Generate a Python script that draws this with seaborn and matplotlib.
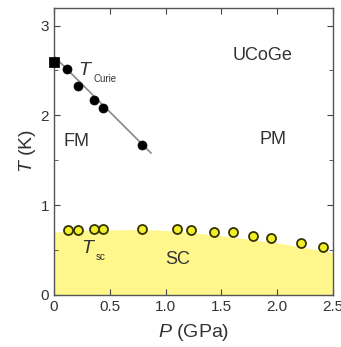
import matplotlib
matplotlib.use("Agg")
import matplotlib.pyplot as plt
import seaborn as sns
import pandas as pd

# Curie temperature (FM -> PM)
p_curie = [0.12, 0.22, 0.36, 0.44, 0.79]
t_curie = [2.52, 2.33, 2.17, 2.08, 1.67]
p_curie0 = [0.0]
t_curie0 = [2.60]
p_line = [0.0, 0.87]
t_line = [2.66, 1.58]

# superconducting transition
p_sc = [0.13, 0.22, 0.36, 0.44, 0.79, 1.10, 1.23, 1.43, 1.60, 1.78, 1.94, 2.21, 2.41]
t_sc = [0.72, 0.72, 0.73, 0.73, 0.74, 0.73, 0.72, 0.70, 0.70, 0.66, 0.63, 0.58, 0.53]

# SC region boundary
p_fill = [0.0, 0.3, 0.8, 1.1, 1.5, 2.0, 2.5]
t_fill = [0.70, 0.72, 0.73, 0.71, 0.66, 0.58, 0.47]

sns.set_style("ticks")
plt.rcParams['font.family'] = ['Liberation Sans', 'DejaVu Sans']
plt.rcParams['mathtext.fontset'] = 'custom'
plt.rcParams['mathtext.rm'] = 'Liberation Sans'
plt.rcParams['mathtext.it'] = 'Liberation Sans:italic'

fig = plt.figure(figsize=(3.41, 3.47), dpi=100)
ax = fig.add_axes([0.158, 0.150, 0.819, 0.828])

ax.fill_between(p_fill, 0, t_fill, color="#fff68c", lw=0, zorder=0)
sns.lineplot(x=p_line, y=t_line, color="#888888", lw=1.2, ax=ax, zorder=1)
sns.scatterplot(x=p_curie, y=t_curie, color="black", s=42, edgecolor="black", ax=ax, zorder=3)
sns.scatterplot(x=p_curie0, y=t_curie0, color="black", marker="s", s=42, edgecolor="black", ax=ax, zorder=3, clip_on=False)
sns.scatterplot(x=p_sc, y=t_sc, color="#f2ee2a", s=42, edgecolor="#333300", linewidth=1.3, ax=ax, zorder=3)

ax.set_xlim(0, 2.5)
ax.set_ylim(0, 3.2)
ax.set_xticks([0, 0.5, 1.0, 1.5, 2.0, 2.5])
ax.set_xticklabels(["0", "0.5", "1.0", "1.5", "2.0", "2.5"])
ax.set_yticks([0, 1, 2, 3])
ax.set_yticks([0.5, 1.5, 2.5], minor=True)
ax.tick_params(direction="in", top=True, right=True, length=4, labelsize=11, colors="#444444", labelcolor="#333333")
ax.tick_params(which="minor", direction="in", top=True, right=True, length=3, colors="#444444")
for s in ax.spines.values():
    s.set_color("#555555")
    s.set_linewidth(1.0)

ax.set_xlabel(r"$P$ (GPa)", fontsize=14, color="#333333", labelpad=6)
ax.set_ylabel(r"$T$ (K)", fontsize=14, color="#333333", labelpad=2)

ax.text(1.6, 2.62, "UCoGe", fontsize=13, color="#333333")
ax.text(0.09, 1.66, "FM", fontsize=13, color="#333333")
ax.text(1.84, 1.68, "PM", fontsize=13, color="#333333")
ax.text(1.0, 0.35, "SC", fontsize=13, color="#333333")

# T with small subscripts, placed next to the T
ax.text(0.22, 2.45, r"$T$", fontsize=14, color="#333333")
ax.annotate("Curie", xy=(0.22, 2.45), xytext=(11, -5), textcoords="offset points",
            fontsize=7, color="#333333", va="baseline")
ax.text(0.24, 0.47, r"$T$", fontsize=14, color="#333333")
ax.annotate("sc", xy=(0.24, 0.47), xytext=(11, -5), textcoords="offset points",
            fontsize=7, color="#333333", va="baseline")

fig.savefig("out.png", dpi=100)
